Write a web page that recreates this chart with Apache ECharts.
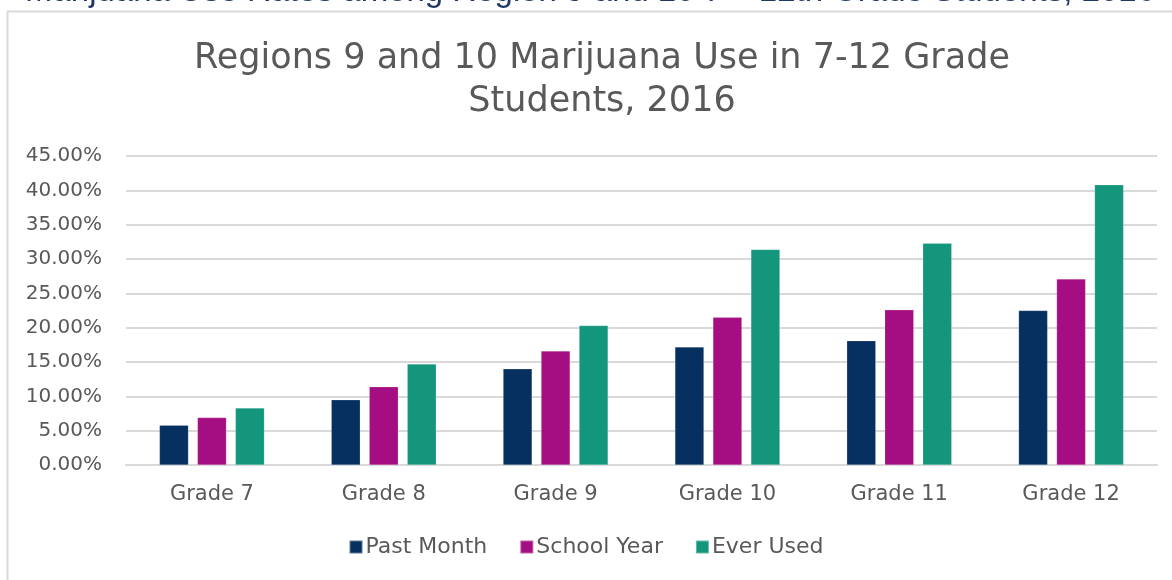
<!DOCTYPE html>
<html>
<head>
<meta charset="utf-8">
<script src="https://cdn.jsdelivr.net/npm/echarts@6/dist/echarts.min.js"></script>
<style>
  html, body { margin: 0; padding: 0; background: #fff; }
  #chart { width: 1172px; height: 580px; }
</style>
</head>
<body>
<div id="chart"></div>
<script>
// Grade levels on the x axis
var grades = ['Grade 7', 'Grade 8', 'Grade 9', 'Grade 10', 'Grade 11', 'Grade 12'];

// Marijuana use rates (percent of students)
var pastMonth  = [5.8, 9.5, 14.0, 17.2, 18.1, 22.5];
var schoolYear = [6.9, 11.4, 16.6, 21.5, 22.6, 27.1];
var everUsed   = [8.3, 14.7, 20.3, 31.4, 32.3, 40.8];

var seriesNames = ['Past Month', 'School Year', 'Ever Used'];
var seriesColors = ['#063060', '#a50e82', '#14967c'];

var FONT = '"DejaVu Sans", "Noto Sans", sans-serif';
var GREY = '#595959';

var chart = echarts.init(document.getElementById('chart'), null, { renderer: 'canvas' });

function barSeries(name, data, color) {
  return {
    name: name,
    type: 'bar',
    data: data,
    barWidth: 29,
    barGap: '31%',
    itemStyle: { color: color, borderColor: 'rgba(255,255,255,0.35)', borderWidth: 0.5 }
  };
}

chart.setOption({
  backgroundColor: '#ffffff',
  animation: false,
  graphic: [
    {
      type: 'rect',
      shape: { x: 7.5, y: 11.5, width: 1200, height: 600 },
      style: { fill: 'none', stroke: '#d9d9d9', lineWidth: 2 },
      z: -1
    },
    {
      type: 'text',
      left: 25,
      top: -25,
      style: {
        text: 'Marijuana Use Rates among Region 9 and 10 7 – 12th Grade Students, 2016',
        fill: '#1f3864',
        font: '33px "Liberation Sans", sans-serif'
      }
    }
  ],
  title: {
    text: 'Regions 9 and 10 Marijuana Use in 7-12 Grade\nStudents, 2016',
    left: 597,
    textAlign: 'center',
    top: 32,
    textStyle: {
      fontFamily: FONT,
      fontWeight: 'normal',
      fontSize: 35,
      color: GREY,
      lineHeight: 43
    }
  },
  legend: {
    data: seriesNames,
    bottom: 17,
    left: 'center',
    itemWidth: 13,
    itemHeight: 13,
    itemGap: 32,
    icon: 'rect',
    textStyle: { fontFamily: FONT, fontSize: 22, color: GREY, padding: [0, 0, 0, -2] }
  },
  grid: { left: 126, right: 15, top: 156, bottom: 115, containLabel: false },
  xAxis: {
    type: 'category',
    data: grades,
    axisLine: { lineStyle: { color: '#d9d9d9', width: 2 } },
    axisTick: { show: false },
    axisLabel: { fontFamily: FONT, fontSize: 21, color: GREY, margin: 19 }
  },
  yAxis: {
    type: 'value',
    min: 0,
    max: 45,
    interval: 5,
    axisLine: { show: false },
    axisTick: { show: false },
    splitLine: { lineStyle: { color: '#d9d9d9', width: 2 } },
    axisLabel: {
      fontFamily: FONT,
      fontSize: 20,
      color: GREY,
      margin: 24,
      formatter: function (v) { return v.toFixed(2) + '%'; }
    }
  },
  series: [
    barSeries(seriesNames[0], pastMonth, seriesColors[0]),
    barSeries(seriesNames[1], schoolYear, seriesColors[1]),
    barSeries(seriesNames[2], everUsed, seriesColors[2])
  ]
});
</script>
</body>
</html>
